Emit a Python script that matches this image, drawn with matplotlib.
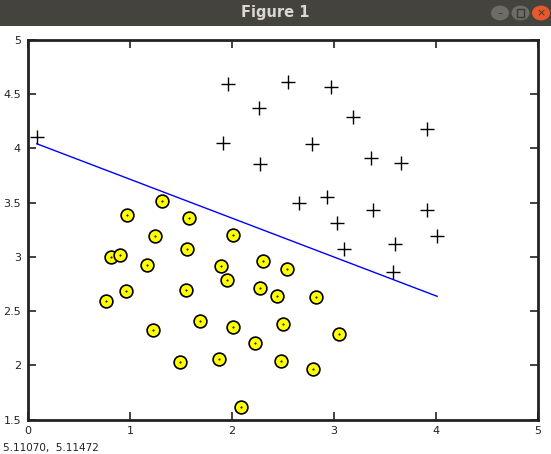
import matplotlib
matplotlib.use("Agg")
import matplotlib.pyplot as plt
from matplotlib.patches import Rectangle, Circle

# positive examples (y = 1)
pos_x1 = [1.9643, 2.2753, 2.9781, 2.9320, 3.5772, 4.0150, 3.3814, 3.9113, 2.7822, 2.5518,
          3.3698, 3.1048, 1.9182, 2.2638, 2.6555, 3.1855, 3.6579, 3.9113, 3.6002, 3.0357, 0.0864]
pos_x2 = [4.5957, 3.8589, 4.5651, 3.5519, 2.8560, 3.1937, 3.4291, 4.1761, 4.0431, 4.6162,
          3.9101, 3.0709, 4.0534, 4.3706, 3.5008, 4.2888, 3.8692, 3.4291, 3.1221, 3.3165, 4.1045]

# negative examples (y = 0)
neg_x1 = [1.5841, 2.0103, 1.9527, 2.2753, 2.3099, 2.8283, 3.0473, 2.4827, 2.5057, 1.8721,
          2.0103, 1.2269, 1.8951, 1.5610, 1.5495, 1.6878, 1.4919, 0.9620, 1.1693, 0.8122,
          0.9735, 1.2500, 1.3191, 2.2292, 2.4482, 2.7938, 2.0910, 2.5403, 0.9044, 0.7662]
neg_x2 = [3.3575, 3.2039, 2.7843, 2.7127, 2.9584, 2.6309, 2.2931, 2.0373, 2.3853, 2.0577,
          2.3546, 2.3239, 2.9174, 3.0709, 2.6923, 2.4057, 2.0271, 2.6820, 2.9276, 2.9992,
          3.3881, 3.1937, 3.5109, 2.2010, 2.6411, 1.9656, 1.6177, 2.8867, 3.0198, 2.5899]

# linear decision boundary end points
boundary_x = [0.0864, 4.0150]
boundary_y = [4.043, 2.636]

x_ticks = [0, 1, 2, 3, 4, 5]
y_ticks = [1.5, 2, 2.5, 3, 3.5, 4, 4.5, 5]
y_ticklabels = ["1.5", "2", "2.5", "3", "3.5", "4", "4.5", "5"]

W, H = 551, 454
fig = plt.figure(figsize=(W / 100, H / 100), dpi=100)
fig.patch.set_facecolor("white")

# window title bar
bar_h = 26 / H
fig.patches.append(Rectangle((0, 1 - bar_h), 1, bar_h, transform=fig.transFigure,
                             facecolor="#45433e", edgecolor="none", zorder=0))
fig.text(0.5, 1 - bar_h / 2, "Figure 1", ha="center", va="center", fontsize=10.5,
         fontweight="bold", color="#dcd8cf", family="DejaVu Sans")
for cx, fc in [(500, "#6e6c67"), (520.5, "#6e6c67"), (541, "#e9582c")]:
    fig.patches.append(Circle((cx / W, 1 - 13 / H), 9 / W, transform=fig.transFigure,
                              facecolor=fc, edgecolor="none", zorder=1))
fig.text(500 / W, 1 - 13 / H, "\u2013", ha="center", va="center", fontsize=7, color="#3a3935")
fig.patches.append(Rectangle(((520.5 - 3.5) / W, 1 - 16.5 / H), 7 / W, 7 / H, transform=fig.transFigure,
                             facecolor="none", edgecolor="#3a3935", lw=1, zorder=2))
fig.text(541 / W, 1 - 13 / H, "\u00d7", ha="center", va="center", fontsize=8, color="#3a3935")

ax = fig.add_axes([28 / W, 34.5 / H, 509.5 / W, 379.5 / H])

ax.plot(boundary_x, boundary_y, color="#0000ff", lw=1.0, zorder=2)
ax.plot(pos_x1, pos_x2, "+", color="black", ms=9.5, mew=1.0, zorder=3)
ax.plot(neg_x1, neg_x2, "o", mfc="#ffff00", mec="black", ms=9.2, mew=1.2, zorder=3)
ax.plot(neg_x1, neg_x2, ".", color="black", ms=1.0, zorder=4)

ax.set_xlim(0, 5)
ax.set_ylim(1.5, 5)
ax.set_xticks(x_ticks)
ax.set_xticklabels([str(t) for t in x_ticks])
ax.set_yticks(y_ticks)
ax.set_yticklabels(y_ticklabels)
ax.tick_params(direction="in", length=6, width=1.2, top=True, right=True,
               labelsize=8, colors="#222222", pad=5)
for s in ax.spines.values():
    s.set_linewidth(2)
    s.set_color("#222222")

fig.text(3 / W, 1 - 453 / H, "5.11070,  5.11472", ha="left", va="bottom", fontsize=7.5, color="#222222")

fig.savefig("out.png", dpi=100)
